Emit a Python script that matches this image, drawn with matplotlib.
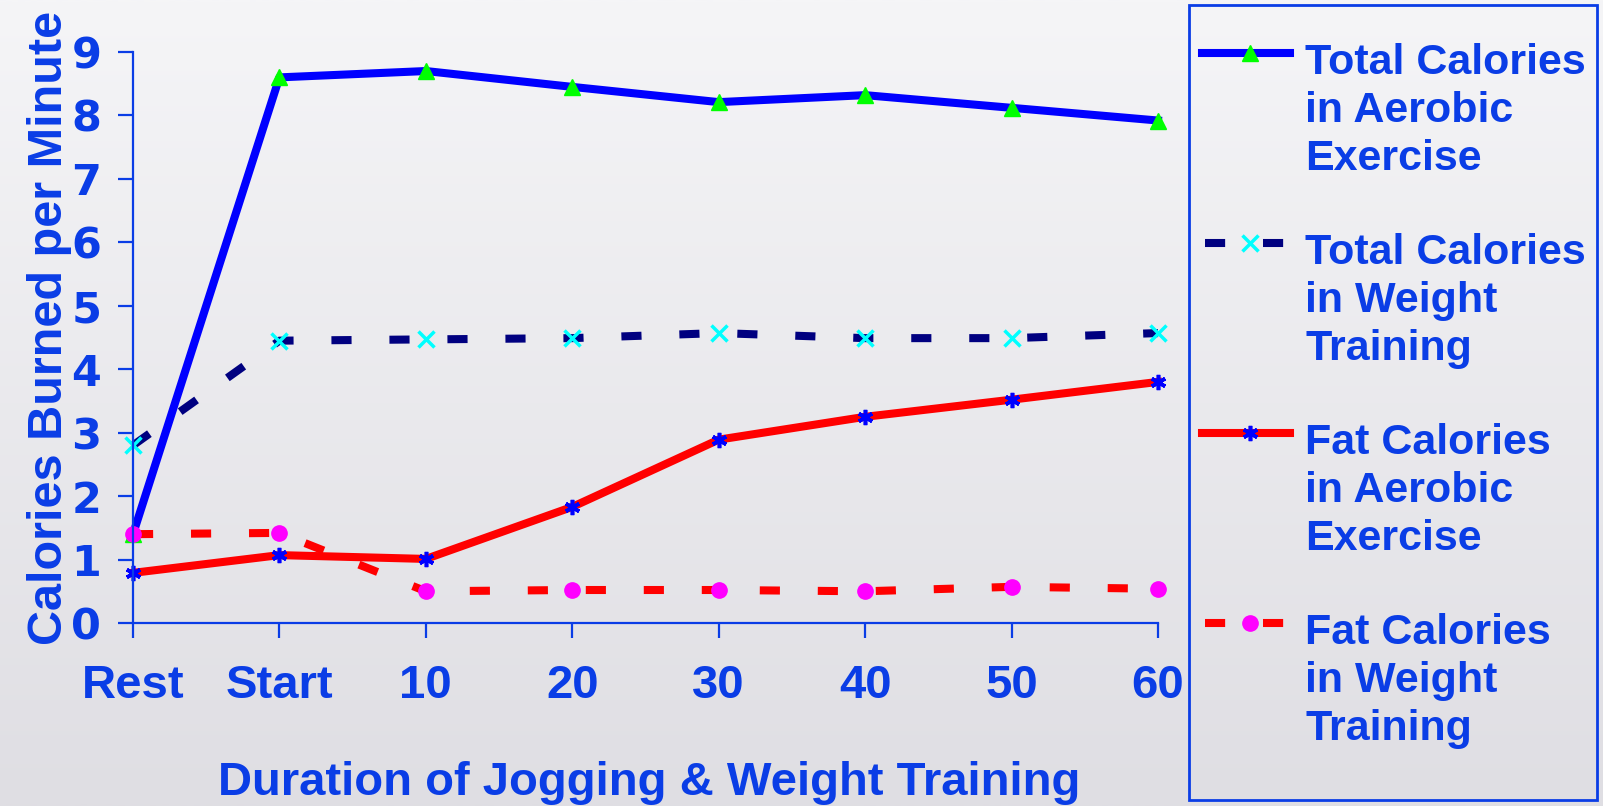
import matplotlib
matplotlib.use('Agg')
import matplotlib.pyplot as plt
import numpy as np
from matplotlib.lines import Line2D
from matplotlib.patches import Rectangle
from matplotlib import font_manager

# ---------------- data ----------------
categories = ['Rest', 'Start', '10', '20', '30', '40', '50', '60']
total_aerobic = [1.40, 8.60, 8.70, 8.45, 8.21, 8.32, 8.12, 7.92]
total_weight = [2.80, 4.45, 4.47, 4.49, 4.57, 4.49, 4.49, 4.57]
fat_aerobic = [0.79, 1.07, 1.01, 1.83, 2.89, 3.25, 3.52, 3.80]
fat_weight = [1.40, 1.42, 0.50, 0.52, 0.52, 0.50, 0.57, 0.54]
y_ticks = [0, 1, 2, 3, 4, 5, 6, 7, 8, 9]
series_labels = ['Total Calories\nin Aerobic\nExercise',
                 'Total Calories\nin Weight\nTraining',
                 'Fat Calories\nin Aerobic\nExercise',
                 'Fat Calories\nin Weight\nTraining']
x_title = 'Duration of Jogging & Weight Training'
y_title = 'Calories Burned per Minute'

# ---------------- styles ----------------
TXT = '#0a3de6'
W, H = 1603, 806
names = {f.name for f in font_manager.fontManager.ttflist}
NARROW = 'Liberation Sans Narrow' in names
BASE = 'Liberation Sans' if 'Liberation Sans' in names else 'DejaVu Sans'


def fx(px):
    return px / W


def fy(py):
    return 1 - py / H


fig = plt.figure(figsize=(W / 100, H / 100), dpi=100)

# background gradient
bg = fig.add_axes([0, 0, 1, 1], zorder=-10)
top = np.array([245, 245, 247]) / 255
bot = np.array([223, 222, 227]) / 255
t = np.linspace(0, 1, 256)[:, None]
grad = (top[None, :] * (1 - t) + bot[None, :] * t)[:, None, :]
bg.imshow(grad, aspect='auto', extent=[0, 1, 0, 1], interpolation='bilinear')
bg.axis('off')

ax = fig.add_axes([fx(133), fy(623), fx(1158) - fx(133), fy(52) - fy(623)])
ax.patch.set_alpha(0)

x = np.arange(len(categories))
LW = 5.8
dash = (0, (2.5, 4.7))
styles = [
    dict(color='#0000ff', lw=LW, ls='-', marker='^', ms=12, mfc='#00ff00', mec='#00ff00', mew=1),
    dict(color='#000080', lw=LW, ls=dash, marker='x', ms=11, mfc='#00ffff', mec='#00ffff', mew=2.5),
    dict(color='#ff0000', lw=LW, ls='-', marker=(6, 2, 0), ms=11, mfc='#0000ff', mec='#0000ff', mew=2.6),
    dict(color='#ff0000', lw=LW, ls=dash, marker='o', ms=11, mfc='#ff00ff', mec='#ff00ff', mew=1),
]
for vals, st in zip([total_aerobic, total_weight, fat_aerobic, fat_weight], styles):
    ax.plot(x, vals, clip_on=False, **st)

ax.set_xlim(0, 7)
ax.set_ylim(0, 9)
ax.set_xticks(x)
ax.set_xticklabels(categories, fontsize=34, fontweight='bold', family=BASE, color=TXT)
ax.set_yticks(y_ticks)
ax.set_yticklabels([str(v) for v in y_ticks], fontsize=31, fontweight='bold',
                   family='DejaVu Sans', color=TXT)
ax.tick_params(axis='x', length=10.8, width=1.6, color=TXT, pad=19, direction='out')
ax.tick_params(axis='y', length=10.8, width=1.6, color=TXT, pad=12, direction='out')
for s in ['top', 'right']:
    ax.spines[s].set_visible(False)
for s in ['left', 'bottom']:
    ax.spines[s].set_color(TXT)
    ax.spines[s].set_linewidth(1.6)

# axis titles
fig.text(fx(649), fy(795), x_title, ha='center', va='baseline', fontsize=34,
         fontweight='bold', family=BASE, color=TXT)
if NARROW:
    fig.text(fx(62), fy(328), y_title, ha='center', va='baseline', rotation=90,
             rotation_mode='anchor', fontsize=43, fontweight='bold',
             family='Liberation Sans Narrow', color=TXT)
else:
    fig.text(fx(62), fy(328), y_title, ha='center', va='baseline', rotation=90,
             rotation_mode='anchor', fontsize=35, fontweight='bold',
             family=BASE, color=TXT)

# legend (drawn manually so handles align with first text line)
fig.add_artist(Rectangle((fx(1189), fy(800)), fx(1597) - fx(1189), fy(5) - fy(800),
                         transform=fig.transFigure, fill=False, edgecolor=TXT, lw=2))
for i, (lab, st) in enumerate(zip(series_labels, styles)):
    hy = 53 + 190 * i
    x0 = 1202 if st['ls'] == '-' else 1205
    fig.add_artist(Line2D([fx(x0), fx(1290)], [fy(hy), fy(hy)], transform=fig.transFigure,
                          color=st['color'], lw=st['lw'], ls=st['ls']))
    fig.add_artist(Line2D([fx(1250)], [fy(hy)], transform=fig.transFigure, ls='none',
                          marker=st['marker'], ms=st['ms'], mfc=st['mfc'], mec=st['mec'],
                          mew=st['mew']))
    for j, line in enumerate(lab.split('\n')):
        fig.text(fx(1305), fy(74 + 190 * i + 48 * j), line, ha='left', va='baseline',
                 fontsize=31, fontweight='bold', family=BASE, color=TXT)

fig.savefig('out.png', dpi=100)
